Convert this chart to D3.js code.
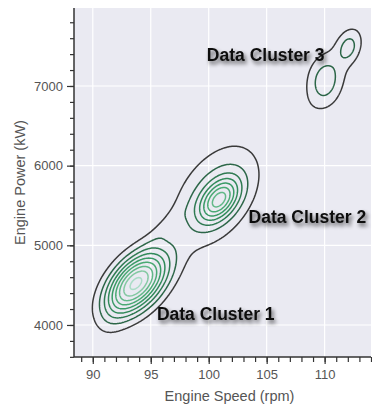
<!DOCTYPE html>
<html>
<head>
<meta charset="utf-8">
<script src="https://cdn.jsdelivr.net/npm/d3@7"></script>
<style>
  body { margin: 0; background: #fff; }
  svg text { font-family: "Liberation Sans", Arial, sans-serif; }
</style>
</head>
<body>
<div id="chart"></div>
<script>
// Tick values
const xTicks = [90, 95, 100, 105, 110];
const yTicks = [4000, 5000, 6000, 7000];

// Density blobs (rpm, kW, spread rpm, spread kW, correlation, peak)
const blobRpm  = [93.83, 92.18, 96.24, 100.92, 100.6, 109.97, 112.05, 110.95];
const blobKw   = [4527, 4314, 5217, 5569, 5620, 7062, 7489, 7240];
const blobSdX  = [1.81, 1.21, 1.21, 1.16, 2.6, 1.0, 0.65, 2.35];
const blobSdY  = [276, 314, 176, 183, 450, 215, 130, 520];
const blobRho  = [0.5, 0.6, 0.8, 0.45, 0.45, 0.0, 0.2, 0.8];
const blobPeak = [9.0, 0.7, 0.6, 5.1, 2.6, 1.8, 1.7, 0.95];

// Contour levels and their colours (outer to inner)
const levels = [1, 2, 3, 4, 5, 6, 7, 8, 9];
const levelColors = ["#3a3a3a", "#2c6648", "#2f7a52", "#318a5a", "#3a9a66",
                     "#4aa973", "#62b888", "#84c9a2", "#aadcc6"];

// Labels
const labelText = ["Data Cluster 1", "Data Cluster 2", "Data Cluster 3"];
const labelRpm = [95.53, 103.44, 99.84];
const labelKw = [4063, 5284, 7313];

const width = 372, height = 406;
const margin = { top: 8, right: 1, bottom: 49, left: 74 };

const svg = d3.select("#chart").append("svg")
    .attr("width", width)
    .attr("height", height);

const defs = svg.append("defs");
const f = defs.append("filter").attr("id", "shadow")
    .attr("x", "-20%").attr("y", "-60%").attr("width", "140%").attr("height", "220%");
f.append("feGaussianBlur").attr("in", "SourceAlpha").attr("stdDeviation", 2.2);
f.append("feOffset").attr("dx", 2).attr("dy", 2.5).attr("result", "blur");
f.append("feComponentTransfer").append("feFuncA").attr("type", "linear").attr("slope", 0.65);
const fm = f.append("feMerge");
fm.append("feMergeNode");
fm.append("feMergeNode").attr("in", "SourceGraphic");

const x = d3.scaleLinear().domain([88.38, 114.0]).range([margin.left, width - margin.right]);
const y = d3.scaleLinear().domain([3598, 7979]).range([height - margin.bottom, margin.top]);

// background
svg.append("rect")
    .attr("x", x.range()[0]).attr("y", y.range()[1])
    .attr("width", x.range()[1] - x.range()[0])
    .attr("height", y.range()[0] - y.range()[1])
    .attr("fill", "#eaeaf2");

// grid
svg.append("g").selectAll("line").data(xTicks).join("line")
    .attr("x1", d => x(d)).attr("x2", d => x(d))
    .attr("y1", y.range()[0]).attr("y2", y.range()[1])
    .attr("stroke", "#fff").attr("stroke-width", 1.2);
svg.append("g").selectAll("line").data(yTicks).join("line")
    .attr("y1", d => y(d)).attr("y2", d => y(d))
    .attr("x1", x.range()[0]).attr("x2", x.range()[1])
    .attr("stroke", "#fff").attr("stroke-width", 1.2);

// density grid
const nx = 300, ny = 350;
const [x0, x1] = x.domain(), [y0, y1] = y.domain();
const dx = (x1 - x0) / nx, dy = (y1 - y0) / ny;
const values = new Float64Array(nx * ny);
for (let j = 0; j < ny; j++) {
    const kw = y0 + (j + 0.5) * dy;
    for (let i = 0; i < nx; i++) {
        const rpm = x0 + (i + 0.5) * dx;
        let v = 0;
        for (let k = 0; k < blobRpm.length; k++) {
            const u = (rpm - blobRpm[k]) / blobSdX[k];
            const w = (kw - blobKw[k]) / blobSdY[k];
            const r = blobRho[k];
            const q = (u * u - 2 * r * u * w + w * w) / (1 - r * r);
            v += blobPeak[k] * Math.exp(-0.5 * q);
        }
        values[i + j * nx] = v;
    }
}

const contours = d3.contours().size([nx, ny]).thresholds(levels)(values);
const proj = d3.geoTransform({
    point: function (gx, gy) {
        this.stream.point(x(x0 + gx * dx), y(y0 + gy * dy));
    }
});
const path = d3.geoPath(proj);

svg.append("g").selectAll("path").data(contours).join("path")
    .attr("d", path)
    .attr("fill", "none")
    .attr("stroke", (d, i) => levelColors[i])
    .attr("stroke-width", 1.5)
    .attr("stroke-linejoin", "round");

// axes
const xAxis = svg.append("g").attr("transform", `translate(0,${y.range()[0]})`);
xAxis.append("g").call(d3.axisBottom(x).tickValues(d3.range(89, 115, 1)).tickSize(5).tickFormat(""))
    .call(g => g.select(".domain").remove());
xAxis.append("g").call(d3.axisBottom(x).tickValues(xTicks).tickSize(7).tickPadding(6).tickFormat(d3.format("d")))
    .call(g => g.select(".domain").remove())
    .call(g => g.selectAll("text").attr("font-size", 13).attr("fill", "#555").attr("font-family", null));
xAxis.selectAll("line").attr("stroke", "#333").attr("stroke-width", 1.2);
xAxis.append("line").attr("x1", x.range()[0]).attr("x2", x.range()[1])
    .attr("stroke", "#333").attr("stroke-width", 1.5);

const yAxis = svg.append("g").attr("transform", `translate(${x.range()[0]},0)`);
yAxis.append("g").call(d3.axisLeft(y).tickValues(d3.range(3600, 8000, 200)).tickSize(4).tickFormat(""))
    .call(g => g.select(".domain").remove());
yAxis.append("g").call(d3.axisLeft(y).tickValues(yTicks).tickSize(7).tickPadding(4).tickFormat(d3.format("d")))
    .call(g => g.select(".domain").remove())
    .call(g => g.selectAll("text").attr("font-size", 13).attr("fill", "#555").attr("font-family", null));
yAxis.selectAll("line").attr("stroke", "#333").attr("stroke-width", 1.2);
yAxis.append("line").attr("y1", y.range()[0]).attr("y2", y.range()[1])
    .attr("stroke", "#333").attr("stroke-width", 1.5);

// axis labels
svg.append("text")
    .attr("x", (x.range()[0] + x.range()[1]) / 2 + 7)
    .attr("y", 401)
    .attr("text-anchor", "middle")
    .attr("font-size", 14.5)
    .attr("fill", "#555")
    .text("Engine Speed (rpm)");
svg.append("text")
    .attr("transform", `translate(25,${(y.range()[0] + y.range()[1]) / 2}) rotate(-90)`)
    .attr("text-anchor", "middle")
    .attr("font-size", 14.5)
    .attr("fill", "#555")
    .text("Engine Power (kW)");

// cluster labels
svg.append("g").selectAll("text").data(labelText).join("text")
    .attr("x", (d, i) => x(labelRpm[i]))
    .attr("y", (d, i) => y(labelKw[i]))
    .attr("font-size", 17.5)
    .attr("font-weight", "bold")
    .attr("fill", "#111")
    .attr("filter", "url(#shadow)")
    .text(d => d);
</script>
</body>
</html>
